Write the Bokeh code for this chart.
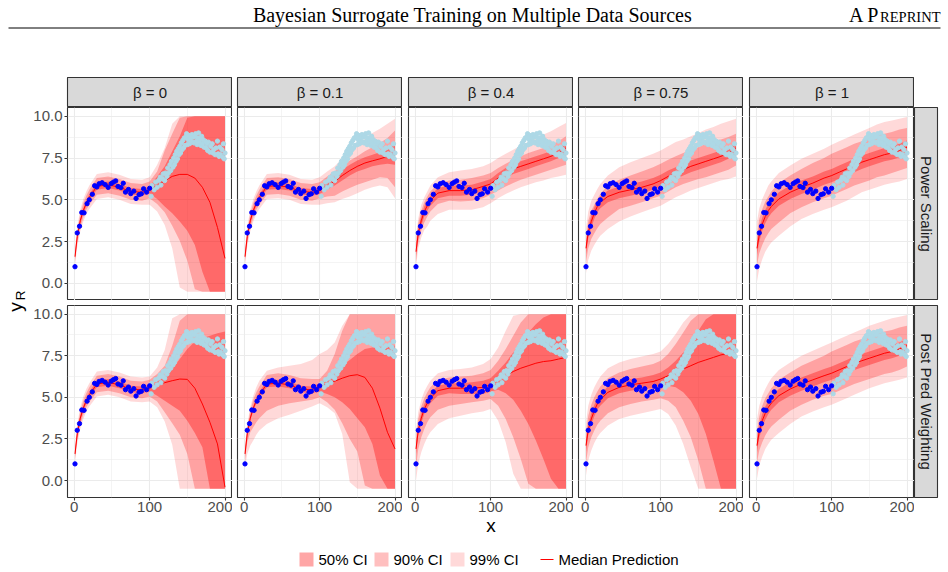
from math import pi

from bokeh.core.properties import value
from bokeh.embed import file_html
from bokeh.layouts import column, row
from bokeh.models import FixedTicker, Grid, LinearAxis, PrintfTickFormatter, Range1d
from bokeh.plotting import figure
from bokeh.resources import INLINE

# ---------------------------------------------------------------- data
XS = [1, 4, 8, 12, 16, 20, 30, 45, 60, 75, 90, 100, 110, 120, 130, 140, 150, 160, 170, 180, 190, 200]

# observed training data (first source, dark blue)
OBS1_X = [1, 4, 7, 10, 13, 17, 20, 24, 27, 30, 33, 37, 41, 45, 49, 52, 55, 58, 62, 65, 68, 72, 75, 79, 82, 86, 89, 92, 96, 100]
OBS1_Y = [1.0, 3.02, 3.42, 4.24, 4.22, 4.77, 5.0, 5.33, 5.84, 5.77, 5.96, 6.02, 5.91, 5.74, 5.97, 6.06, 6.13, 5.8, 5.73, 5.99,
          5.46, 5.62, 5.37, 5.52, 5.08, 5.31, 5.36, 5.66, 5.46, 5.69]

# second source (light blue)
OBS2_X = [102, 103, 106, 108, 110, 112, 114, 115, 117, 118, 120, 121, 123, 124, 125, 127, 128, 129, 131, 132, 133, 134, 135,
          136, 137, 138, 139, 140, 141, 142, 143, 144, 145, 146, 147, 148, 149, 150, 151, 152, 153, 154, 155, 156, 157, 158,
          159, 160, 161, 162, 163, 164, 165, 166, 167, 168, 169, 170, 171, 172, 174, 175, 176, 177, 178, 180, 181, 183, 184,
          185, 187, 188, 190, 191, 192, 193, 194, 196, 197, 198, 199, 200]
OBS2_Y = [5.21, 5.85, 5.6, 6.06, 5.75, 6.16, 6.35, 5.88, 6.26, 6.55, 6.15, 6.6, 6.4, 6.9, 6.6, 7.1, 6.75, 7.3, 6.95, 7.5,
          7.1, 7.7, 7.3, 7.9, 7.45, 8.05, 7.7, 8.2, 7.8, 8.4, 8.0, 8.55, 8.1, 8.7, 8.25, 8.75, 8.95, 8.3, 8.6, 8.85, 8.35,
          8.7, 8.5, 8.9, 8.45, 8.75, 8.4, 8.8, 8.95, 8.5, 8.3, 8.7, 9.0, 8.45, 8.65, 8.25, 8.8, 8.35, 8.6, 8.15, 8.5, 8.1,
          8.35, 7.95, 8.45, 7.85, 8.2, 8.35, 7.8, 8.0, 7.7, 8.1, 8.51, 7.75, 7.6, 8.15, 7.7, 8.0, 7.55, 8.35, 7.45, 7.8]

# Power Scaling, beta = 0
PS_B0_MED = [1.6, 2.8, 3.75, 4.35, 4.8, 5.15, 5.8, 5.9, 5.75, 5.5, 5.45, 5.6, 5.85, 6.15, 6.4, 6.52, 6.52, 6.3, 5.75, 4.85, 3.35, 1.5]
PS_B0_L50 = [1.48, 2.67, 3.6, 4.2, 4.63, 4.97, 5.6, 5.7, 5.55, 5.3, 5.25, 5.4, 5.05, 4.6, 4.2, 3.7, 3.15, 2.3, 0.7, -0.5, -0.5, -0.5]
PS_B0_U50 = [1.72, 2.93, 3.9, 4.5, 4.97, 5.33, 6.0, 6.1, 5.95, 5.7, 5.65, 5.8, 6.4, 7.0, 7.9, 8.8, 9.9, 10, 10, 10, 10, 10]
PS_B0_L90 = [1.3, 2.45, 3.35, 3.95, 4.4, 4.7, 5.3, 5.4, 5.25, 5.0, 4.95, 5.1, 4.75, 4.25, 3.45, 2.55, 1.35, -0.35, -0.5, -0.5, -0.5, -0.5]
PS_B0_U90 = [1.9, 3.15, 4.15, 4.8, 5.25, 5.6, 6.3, 6.4, 6.25, 6.0, 5.95, 6.1, 6.7, 7.95, 8.95, 9.9, 10, 10, 10, 10, 10, 10]
PS_B0_L99 = [1.1, 2.2, 3.1, 3.7, 4.15, 4.45, 5.05, 5.15, 5.0, 4.75, 4.7, 4.7, 4.3, 3.5, 2.1, -0.25, -0.5, -0.5, -0.5, -0.5, -0.5, -0.5]
PS_B0_U99 = [2.1, 3.4, 4.4, 5.05, 5.5, 5.85, 6.55, 6.65, 6.5, 6.25, 6.2, 6.35, 7.1, 8.1, 9.55, 10, 10, 10, 10, 10, 10, 10]

# Power Scaling, beta = 0.1
PS_B01_MED = [1.6, 2.8, 3.75, 4.35, 4.8, 5.15, 5.8, 5.85, 5.75, 5.5, 5.45, 5.55, 5.85, 6.1, 6.45, 6.75, 7.0, 7.2, 7.33, 7.45, 7.6, 7.85]
PS_B01_L50 = [1.48, 2.67, 3.6, 4.2, 4.63, 4.97, 5.6, 5.65, 5.55, 5.3, 5.25, 5.35, 5.6, 5.85, 6.15, 6.45, 6.7, 6.85, 7.0, 7.1, 7.15, 7.1]
PS_B01_U50 = [1.72, 2.93, 3.9, 4.5, 4.97, 5.33, 6.0, 6.05, 5.95, 5.7, 5.65, 5.75, 6.05, 6.4, 6.8, 7.1, 7.35, 7.55, 7.7, 7.85, 8.0, 8.3]
PS_B01_L90 = [1.3, 2.45, 3.35, 3.95, 4.4, 4.7, 5.3, 5.35, 5.25, 5.0, 4.95, 5.1, 5.2, 5.25, 5.5, 5.7, 5.9, 6.05, 6.2, 6.35, 6.3, 5.75]
PS_B01_U90 = [1.9, 3.15, 4.15, 4.8, 5.25, 5.6, 6.3, 6.35, 6.25, 6.0, 5.95, 6.05, 6.4, 6.7, 7.05, 7.35, 7.6, 7.9, 8.15, 8.4, 8.7, 9.15]
PS_B01_L99 = [1.1, 2.2, 3.1, 3.7, 4.15, 4.45, 5.05, 5.1, 5.0, 4.75, 4.7, 4.7, 4.8, 4.85, 5.05, 5.2, 5.4, 5.6, 5.75, 5.85, 5.75, 5.1]
PS_B01_U99 = [2.1, 3.4, 4.4, 5.05, 5.5, 5.85, 6.55, 6.6, 6.5, 6.25, 6.2, 6.35, 6.7, 7.0, 7.45, 7.9, 8.3, 8.65, 9.0, 9.25, 9.55, 9.85]

# Power Scaling, beta = 0.4
PS_B04_MED = [1.9, 3.0, 3.75, 4.3, 4.65, 4.95, 5.4, 5.55, 5.55, 5.6, 5.8, 5.95, 6.3, 6.6, 6.85, 7.0, 7.15, 7.3, 7.45, 7.6, 7.8, 8.1]
PS_B04_L50 = [1.65, 2.7, 3.45, 4.0, 4.35, 4.65, 5.1, 5.25, 5.25, 5.3, 5.5, 5.65, 6.0, 6.3, 6.55, 6.7, 6.85, 7.0, 7.15, 7.3, 7.5, 7.8]
PS_B04_U50 = [2.15, 3.3, 4.05, 4.6, 4.95, 5.25, 5.7, 5.85, 5.85, 5.9, 6.1, 6.25, 6.6, 6.9, 7.15, 7.3, 7.45, 7.6, 7.75, 7.9, 8.1, 8.4]
PS_B04_L90 = [1.3, 2.45, 3.15, 3.65, 4.0, 4.3, 4.75, 4.95, 4.9, 4.95, 5.1, 5.3, 5.55, 5.8, 6.0, 6.2, 6.35, 6.5, 6.65, 6.8, 6.95, 7.1]
PS_B04_U90 = [2.5, 3.6, 4.35, 4.85, 5.2, 5.5, 5.95, 6.15, 6.2, 6.3, 6.45, 6.6, 6.9, 7.15, 7.4, 7.6, 7.8, 7.95, 8.1, 8.3, 8.5, 8.8]
PS_B04_L99 = [1.0, 2.1, 2.75, 3.2, 3.4, 3.75, 4.15, 4.4, 4.4, 4.4, 4.55, 4.8, 5.1, 5.35, 5.55, 5.75, 5.9, 6.05, 6.15, 6.3, 6.4, 6.5]
PS_B04_U99 = [2.8, 3.9, 4.7, 5.15, 5.5, 5.85, 6.35, 6.65, 6.75, 6.85, 7.0, 7.2, 7.5, 7.75, 8.0, 8.25, 8.45, 8.7, 8.9, 9.1, 9.35, 9.6]

# Power Scaling, beta = 0.75
PS_B075_MED = [2.1, 3.05, 3.7, 4.2, 4.6, 4.85, 5.2, 5.45, 5.6, 5.75, 5.95, 6.15, 6.4, 6.6, 6.8, 7.0, 7.15, 7.3, 7.45, 7.6, 7.8, 8.1]
PS_B075_L50 = [1.75, 2.7, 3.35, 3.85, 4.25, 4.5, 4.85, 5.1, 5.25, 5.4, 5.6, 5.8, 6.05, 6.25, 6.45, 6.65, 6.8, 6.95, 7.1, 7.25, 7.45, 7.75]
PS_B075_U50 = [2.45, 3.4, 4.05, 4.55, 4.95, 5.2, 5.55, 5.8, 5.95, 6.1, 6.3, 6.5, 6.75, 6.95, 7.15, 7.35, 7.5, 7.65, 7.8, 7.95, 8.15, 8.45]
PS_B075_L90 = [1.3, 2.1, 2.65, 3.0, 3.3, 3.55, 3.95, 4.45, 4.65, 4.85, 5.1, 5.25, 5.5, 5.75, 5.95, 6.1, 6.25, 6.35, 6.5, 6.65, 6.8, 7.05]
PS_B075_U90 = [2.7, 3.75, 4.35, 4.7, 5.05, 5.35, 5.85, 6.2, 6.45, 6.7, 6.95, 7.15, 7.4, 7.6, 7.8, 8.0, 8.15, 8.35, 8.5, 8.6, 8.75, 8.95]
PS_B075_L99 = [0.6, 1.4, 1.95, 2.3, 2.6, 2.85, 3.25, 3.7, 4.0, 4.25, 4.5, 4.65, 4.9, 5.15, 5.35, 5.55, 5.7, 5.85, 6.0, 6.15, 6.25, 6.4]
PS_B075_U99 = [3.3, 4.3, 4.95, 5.3, 5.65, 5.95, 6.45, 6.95, 7.25, 7.5, 7.75, 7.95, 8.2, 8.45, 8.6, 8.8, 9.0, 9.2, 9.35, 9.55, 9.7, 9.85]

# Power Scaling, beta = 1
PS_B1_MED = [2.1, 2.9, 3.55, 4.0, 4.35, 4.6, 5.05, 5.45, 5.75, 6.0, 6.3, 6.45, 6.65, 6.85, 7.05, 7.25, 7.4, 7.55, 7.7, 7.8, 7.95, 8.15]
PS_B1_L50 = [1.7, 2.5, 3.15, 3.6, 3.95, 4.2, 4.65, 5.05, 5.35, 5.6, 5.9, 6.05, 6.25, 6.45, 6.65, 6.85, 7.0, 7.15, 7.3, 7.4, 7.55, 7.75]
PS_B1_U50 = [2.5, 3.3, 3.95, 4.4, 4.75, 5.0, 5.45, 5.85, 6.15, 6.4, 6.7, 6.85, 7.05, 7.25, 7.45, 7.65, 7.8, 7.95, 8.1, 8.2, 8.35, 8.55]
PS_B1_L90 = [1.1, 1.8, 2.3, 2.7, 3.0, 3.25, 3.65, 4.2, 4.55, 4.85, 5.1, 5.25, 5.45, 5.65, 5.85, 6.0, 6.15, 6.35, 6.45, 6.6, 6.75, 6.9]
PS_B1_U90 = [2.9, 3.85, 4.45, 4.9, 5.2, 5.5, 6.0, 6.45, 6.85, 7.2, 7.5, 7.75, 7.95, 8.15, 8.35, 8.5, 8.65, 8.85, 8.95, 9.05, 9.2, 9.3]
PS_B1_L99 = [0.1, 0.9, 1.45, 1.9, 2.2, 2.45, 2.85, 3.4, 3.85, 4.15, 4.4, 4.55, 4.75, 4.95, 5.2, 5.45, 5.6, 5.75, 5.9, 6.0, 6.1, 6.25]
PS_B1_U99 = [3.7, 4.5, 5.05, 5.45, 5.85, 6.1, 6.6, 7.05, 7.45, 7.75, 8.05, 8.3, 8.5, 8.7, 8.9, 9.1, 9.3, 9.5, 9.65, 9.75, 9.85, 9.95]

# Post Pred Weighting, beta = 0
PP_B0_MED = [1.6, 2.8, 3.75, 4.35, 4.8, 5.15, 5.8, 5.9, 5.75, 5.5, 5.45, 5.56, 5.72, 5.88, 6.0, 6.1, 6.08, 5.55, 4.6, 3.5, 2.2, -0.4]
PP_B0_L50 = [1.48, 2.67, 3.6, 4.2, 4.63, 4.97, 5.6, 5.7, 5.55, 5.3, 5.25, 5.36, 5.1, 4.8, 4.5, 4.2, 3.6, 2.85, 2.0, -0.5, -0.5, -0.5]
PP_B0_U50 = [1.72, 2.93, 3.9, 4.5, 4.97, 5.33, 6.0, 6.1, 5.95, 5.7, 5.65, 5.76, 5.95, 6.25, 6.7, 7.3, 7.9, 8.35, 8.55, 8.7, 8.85, 8.95]
PP_B0_L90 = [1.3, 2.45, 3.35, 3.95, 4.4, 4.7, 5.3, 5.4, 5.25, 5.0, 4.95, 5.05, 4.75, 4.1, 3.45, 2.75, 1.6, -0.5, -0.5, -0.5, -0.5, -0.5]
PP_B0_U90 = [1.9, 3.15, 4.15, 4.8, 5.25, 5.6, 6.3, 6.4, 6.25, 6.0, 5.95, 6.06, 6.4, 6.9, 8.1, 9.6, 10, 10, 10, 10, 10, 10]
PP_B0_L99 = [1.1, 2.2, 3.1, 3.7, 4.15, 4.45, 5.05, 5.15, 5.0, 4.75, 4.7, 4.75, 4.4, 3.55, 2.15, -0.5, -0.5, -0.5, -0.5, -0.5, -0.5, -0.5]
PP_B0_U99 = [2.1, 3.4, 4.4, 5.05, 5.5, 5.85, 6.55, 6.65, 6.5, 6.25, 6.2, 6.25, 6.8, 7.85, 9.75, 10, 10, 10, 10, 10, 10, 10]

# Post Pred Weighting, beta = 0.1
PP_B01_MED = [1.6, 2.8, 3.75, 4.35, 4.8, 5.15, 5.8, 5.85, 5.75, 5.5, 5.45, 5.64, 5.8, 5.97, 6.15, 6.3, 6.36, 6.2, 5.55, 4.35, 2.9, 1.9]
PP_B01_L50 = [1.48, 2.67, 3.6, 4.2, 4.63, 4.97, 5.6, 5.65, 5.55, 5.3, 5.25, 5.35, 5.2, 5.0, 4.7, 4.3, 3.75, 3.2, 2.2, 0.3, -0.5, -0.5]
PP_B01_U50 = [1.72, 2.93, 3.9, 4.5, 4.97, 5.33, 6.0, 6.05, 5.95, 5.7, 5.65, 5.85, 6.1, 6.5, 6.9, 7.25, 7.6, 7.9, 8.0, 8.05, 8.1, 8.1]
PP_B01_L90 = [1.2, 2.3, 2.9, 3.2, 3.5, 3.75, 4.2, 4.5, 4.65, 4.75, 4.85, 5.0, 4.7, 4.25, 3.45, 2.5, 1.75, -0.3, -0.5, -0.5, -0.5, -0.5]
PP_B01_U90 = [1.95, 3.2, 4.2, 4.85, 5.3, 5.65, 6.35, 6.45, 6.35, 6.15, 6.1, 6.1, 6.6, 7.6, 9.0, 10, 10, 10, 10, 10, 10, 10]
PP_B01_L99 = [0.8, 1.6, 2.1, 2.4, 2.75, 3.0, 3.4, 3.75, 3.95, 4.2, 4.45, 4.65, 4.4, 4.05, 2.8, -0.1, -0.5, -0.5, -0.5, -0.5, -0.5, -0.5]
PP_B01_U99 = [2.1, 3.4, 4.4, 5.1, 5.6, 6.0, 6.6, 6.8, 6.9, 7.0, 7.25, 7.6, 7.85, 8.3, 9.3, 10, 10, 10, 10, 10, 10, 10]

# Post Pred Weighting, beta = 0.4
PP_B04_MED = [1.9, 3.0, 3.75, 4.3, 4.65, 4.95, 5.4, 5.55, 5.55, 5.55, 5.6, 5.75, 6.05, 6.3, 6.55, 6.75, 6.9, 7.05, 7.15, 7.2, 7.3, 7.4]
PP_B04_L50 = [1.6, 2.7, 3.45, 4.0, 4.35, 4.65, 5.1, 5.25, 5.2, 5.2, 5.2, 5.35, 5.45, 5.25, 4.85, 4.2, 3.4, 2.4, 1.3, 0.1, -0.5, -0.5]
PP_B04_U50 = [2.2, 3.3, 4.05, 4.6, 4.95, 5.25, 5.7, 5.85, 5.85, 5.9, 6.0, 6.15, 6.6, 7.1, 7.7, 8.3, 8.9, 9.4, 9.8, 10, 10, 10]
PP_B04_L90 = [0.8, 1.9, 2.6, 3.1, 3.5, 3.8, 4.25, 4.5, 4.6, 4.7, 4.8, 4.9, 4.5, 3.7, 2.6, 1.3, -0.2, -0.5, -0.5, -0.5, -0.5, -0.5]
PP_B04_U90 = [2.6, 3.7, 4.45, 4.95, 5.3, 5.6, 6.05, 6.2, 6.25, 6.3, 6.45, 6.65, 7.2, 7.9, 8.7, 9.5, 10, 10, 10, 10, 10, 10]
PP_B04_L99 = [0.0, 1.0, 1.7, 2.2, 2.6, 2.9, 3.4, 3.75, 3.9, 4.05, 4.15, 4.3, 3.6, 2.3, 0.4, -0.5, -0.5, -0.5, -0.5, -0.5, -0.5, -0.5]
PP_B04_U99 = [3.0, 4.1, 4.85, 5.35, 5.7, 6.0, 6.45, 6.65, 6.7, 6.8, 7.0, 7.3, 8.0, 9.0, 9.9, 10, 10, 10, 10, 10, 10, 10]

# Post Pred Weighting, beta = 0.75
PP_B075_MED = [2.1, 3.05, 3.7, 4.2, 4.6, 4.85, 5.3, 5.6, 5.75, 5.85, 5.95, 6.1, 6.3, 6.5, 6.7, 6.9, 7.1, 7.25, 7.4, 7.55, 7.65, 7.75]
PP_B075_L50 = [1.75, 2.7, 3.35, 3.85, 4.25, 4.5, 4.95, 5.25, 5.4, 5.5, 5.55, 5.65, 5.7, 5.6, 5.3, 4.8, 4.0, 2.8, 1.2, -0.5, -0.5, -0.5]
PP_B075_U50 = [2.45, 3.4, 4.05, 4.55, 4.95, 5.2, 5.65, 5.95, 6.1, 6.2, 6.35, 6.5, 6.8, 7.2, 7.7, 8.3, 9.0, 9.7, 10, 10, 10, 10]
PP_B075_L90 = [1.1, 2.0, 2.6, 3.0, 3.35, 3.6, 4.05, 4.4, 4.6, 4.75, 4.85, 4.95, 4.8, 4.4, 3.6, 2.6, 1.2, -0.5, -0.5, -0.5, -0.5, -0.5]
PP_B075_U90 = [2.9, 3.9, 4.55, 5.0, 5.35, 5.65, 6.15, 6.5, 6.7, 6.85, 7.0, 7.2, 7.6, 8.2, 8.9, 9.6, 10, 10, 10, 10, 10, 10]
PP_B075_L99 = [0.3, 1.2, 1.8, 2.25, 2.6, 2.85, 3.3, 3.7, 3.9, 4.05, 4.2, 4.3, 4.0, 3.3, 2.2, 0.8, -0.5, -0.5, -0.5, -0.5, -0.5, -0.5]
PP_B075_U99 = [3.5, 4.5, 5.15, 5.6, 5.95, 6.25, 6.75, 7.1, 7.3, 7.45, 7.6, 7.75, 8.2, 8.8, 9.5, 10, 10, 10, 10, 10, 10, 10]

# Post Pred Weighting, beta = 1
PP_B1_MED = [2.1, 2.95, 3.6, 4.05, 4.4, 4.65, 5.1, 5.5, 5.8, 6.05, 6.3, 6.45, 6.65, 6.85, 7.05, 7.2, 7.35, 7.5, 7.65, 7.75, 7.9, 8.1]
PP_B1_L50 = [1.7, 2.55, 3.2, 3.65, 4.0, 4.25, 4.7, 5.1, 5.4, 5.65, 5.9, 6.05, 6.25, 6.45, 6.65, 6.8, 6.95, 7.1, 7.25, 7.35, 7.5, 7.7]
PP_B1_U50 = [2.5, 3.35, 4.0, 4.45, 4.8, 5.05, 5.5, 5.9, 6.2, 6.45, 6.7, 6.85, 7.05, 7.25, 7.45, 7.6, 7.75, 7.9, 8.05, 8.15, 8.3, 8.5]
PP_B1_L90 = [1.1, 1.8, 2.3, 2.7, 3.0, 3.25, 3.65, 4.2, 4.55, 4.85, 5.1, 5.2, 5.4, 5.6, 5.8, 5.95, 6.1, 6.25, 6.4, 6.5, 6.65, 6.85]
PP_B1_U90 = [2.9, 3.85, 4.5, 4.95, 5.25, 5.55, 6.05, 6.5, 6.9, 7.2, 7.5, 7.75, 7.95, 8.15, 8.35, 8.5, 8.65, 8.8, 8.95, 9.05, 9.2, 9.3]
PP_B1_L99 = [0.1, 0.9, 1.45, 1.9, 2.2, 2.45, 2.85, 3.4, 3.85, 4.15, 4.4, 4.55, 4.75, 4.95, 5.15, 5.35, 5.55, 5.7, 5.85, 5.95, 6.05, 6.2]
PP_B1_U99 = [3.7, 4.5, 5.1, 5.5, 5.85, 6.15, 6.65, 7.1, 7.5, 7.8, 8.1, 8.3, 8.5, 8.7, 8.9, 9.1, 9.3, 9.45, 9.6, 9.75, 9.85, 9.95]

BETA_LABELS = ["\u03b2 = 0", "\u03b2 = 0.1", "\u03b2 = 0.4", "\u03b2 = 0.75", "\u03b2 = 1"]
METHOD_LABELS = ["Power Scaling", "Post Pred Weighting"]
LEGEND_LABELS = ["50% CI", "90% CI", "99% CI", "Median Prediction"]
X_TICKS = [0, 100, 200]
X_MINOR = [50, 150]
Y_TICKS = [0, 2.5, 5, 7.5, 10]
Y_MINOR = [1.25, 3.75, 6.25, 8.75]

# (median, 50%, 90%, 99%) per facet, rows = method, columns = beta
PANELS = [
    [
        (PS_B0_MED, PS_B0_L50, PS_B0_U50, PS_B0_L90, PS_B0_U90, PS_B0_L99, PS_B0_U99),
        (PS_B01_MED, PS_B01_L50, PS_B01_U50, PS_B01_L90, PS_B01_U90, PS_B01_L99, PS_B01_U99),
        (PS_B04_MED, PS_B04_L50, PS_B04_U50, PS_B04_L90, PS_B04_U90, PS_B04_L99, PS_B04_U99),
        (PS_B075_MED, PS_B075_L50, PS_B075_U50, PS_B075_L90, PS_B075_U90, PS_B075_L99, PS_B075_U99),
        (PS_B1_MED, PS_B1_L50, PS_B1_U50, PS_B1_L90, PS_B1_U90, PS_B1_L99, PS_B1_U99),
    ],
    [
        (PP_B0_MED, PP_B0_L50, PP_B0_U50, PP_B0_L90, PP_B0_U90, PP_B0_L99, PP_B0_U99),
        (PP_B01_MED, PP_B01_L50, PP_B01_U50, PP_B01_L90, PP_B01_U90, PP_B01_L99, PP_B01_U99),
        (PP_B04_MED, PP_B04_L50, PP_B04_U50, PP_B04_L90, PP_B04_U90, PP_B04_L99, PP_B04_U99),
        (PP_B075_MED, PP_B075_L50, PP_B075_U50, PP_B075_L90, PP_B075_U90, PP_B075_L99, PP_B075_U99),
        (PP_B1_MED, PP_B1_L50, PP_B1_U50, PP_B1_L90, PP_B1_U90, PP_B1_L99, PP_B1_U99),
    ],
]

# ---------------------------------------------------------------- style
SANS = "Liberation Sans"
SERIF = "Liberation Serif"
BAND_ALPHA = {"50": 0.35, "90": 0.25, "99": 0.15}
FRAME_W = 165
LEFT_GAP = [40, 5, 6, 5, 6]
ROW_FRAME_H = [193, 192]
STRIP_H = 30
XAXIS_H = 44          # tick labels plus the shared "x" title
X_RANGE = (-8.95, 209.95)
Y_RANGE = (-1.02, 10.52)
BODY_H = STRIP_H + ROW_FRAME_H[0] + 5 + ROW_FRAME_H[1] + XAXIS_H
BODY_TOP = 77
BODY_BOTTOM = BODY_TOP + BODY_H


def blank_fig(w, h, **kw):
    opts = dict(width=w, height=h, x_axis_type=None, y_axis_type=None, toolbar_location=None,
                output_backend="svg", title=None, min_border_left=0, min_border_right=0,
                min_border_top=0, min_border_bottom=0, outline_line_color=None,
                border_fill_color="white", background_fill_color="white")
    opts.update(kw)
    return figure(**opts)


def label(fig, x, y, text, size, font=SANS, align="center", angle=0.0, color="black"):
    fig.text(x=x, y=y, text=text, angle=angle, text_align=align, text_baseline="middle",
             text_font=value(font), text_font_size=size, text_color=color)


def make_panel(r, c):
    med, l50, u50, l90, u90, l99, u99 = PANELS[r][c]
    top = 0 if r == 0 else 5
    bottom = 0 if r == 0 else XAXIS_H
    p = blank_fig(LEFT_GAP[c] + FRAME_W, ROW_FRAME_H[r] + top + bottom,
                  x_range=Range1d(*X_RANGE), y_range=Range1d(*Y_RANGE),
                  min_border_left=LEFT_GAP[c], min_border_top=top, min_border_bottom=bottom,
                  outline_line_color="#333333", outline_line_width=1.1)
    p.add_layout(Grid(dimension=0, ticker=FixedTicker(ticks=X_TICKS, minor_ticks=X_MINOR),
                      grid_line_color="#EBEBEB", grid_line_width=1.1,
                      minor_grid_line_color="#EBEBEB", minor_grid_line_width=0.55))
    p.add_layout(Grid(dimension=1, ticker=FixedTicker(ticks=Y_TICKS, minor_ticks=Y_MINOR),
                      grid_line_color="#EBEBEB", grid_line_width=1.1,
                      minor_grid_line_color="#EBEBEB", minor_grid_line_width=0.55))
    axis_style = dict(axis_line_color=None, major_tick_line_color="#333333", major_tick_line_width=1.1,
                      major_tick_in=0, major_tick_out=3, minor_tick_line_color=None,
                      major_label_text_color="#4D4D4D", major_label_text_font=SANS,
                      major_label_text_font_size="15px")
    if c == 0:
        p.add_layout(LinearAxis(ticker=FixedTicker(ticks=Y_TICKS), formatter=PrintfTickFormatter(format="%.1f"),
                                major_label_standoff=2, **axis_style), "left")
    if r == 1:
        xaxis = LinearAxis(ticker=FixedTicker(ticks=X_TICKS), major_label_standoff=1, **axis_style)
        if c == 2:
            # the middle facet carries the shared x title, centred under the whole grid
            xaxis.axis_label = "x"
            xaxis.axis_label_standoff = 0
            xaxis.axis_label_text_font = SANS
            xaxis.axis_label_text_font_size = "19px"
            xaxis.axis_label_text_font_style = "normal"
            xaxis.axis_label_text_color = "black"
        p.add_layout(xaxis, "below")

    p.varea(x=XS, y1=l99, y2=u99, fill_color="red", fill_alpha=BAND_ALPHA["99"])
    p.varea(x=XS, y1=l90, y2=u90, fill_color="red", fill_alpha=BAND_ALPHA["90"])
    p.varea(x=XS, y1=l50, y2=u50, fill_color="red", fill_alpha=BAND_ALPHA["50"])
    p.line(XS, med, line_color="red", line_width=1)
    p.scatter(OBS2_X, OBS2_Y, size=4.3, color="lightblue")
    p.scatter(OBS1_X, OBS1_Y, size=4.3, color="blue")
    return p


def make_top_strip(c):
    s = blank_fig(LEFT_GAP[c] + FRAME_W, STRIP_H, x_range=Range1d(0, 1), y_range=Range1d(0, 1),
                  min_border_left=LEFT_GAP[c], background_fill_color="#D9D9D9",
                  outline_line_color="#333333", outline_line_width=1.1)
    label(s, [0.5], [0.5], [BETA_LABELS[c]], "15px", color="#1A1A1A")
    return s


def make_side_strip(r):
    top = 0 if r == 0 else 5
    bottom = 0 if r == 0 else XAXIS_H
    s = blank_fig(34, ROW_FRAME_H[r] + top + bottom, x_range=Range1d(0, 1), y_range=Range1d(0, 1),
                  min_border_right=11, min_border_top=top, min_border_bottom=bottom,
                  background_fill_color="#D9D9D9", outline_line_color="#333333", outline_line_width=1.1)
    label(s, [0.5], [0.5], [METHOD_LABELS[r]], "15px", angle=-pi / 2, color="#1A1A1A")
    return s


# ---------------------------------------------------------------- header
header = blank_fig(948, BODY_TOP, x_range=Range1d(0, 948), y_range=Range1d(BODY_TOP, 0))
label(header, [472], [14.5], ["Bayesian Surrogate Training on Multiple Data Sources"], "20px", font=SERIF)
label(header, [940], [16.5], ["REPRINT"], "14.5px", font=SERIF, align="right")
label(header, [879], [14.5], ["A P"], "20px", font=SERIF, align="right")
header.segment(x0=[8], y0=[27.5], x1=[940], y1=[27.5], line_color="black", line_width=1)

# ---------------------------------------------------------------- y title
ytitle = blank_fig(27, BODY_H, x_range=Range1d(0, 27), y_range=Range1d(BODY_BOTTOM, BODY_TOP))
label(ytitle, [15], [306.5], ["y"], "19px", angle=pi / 2)
label(ytitle, [19.5], [295], ["R"], "13.5px", angle=pi / 2)

# ---------------------------------------------------------------- legend
footer = blank_fig(948, 572 - BODY_BOTTOM, x_range=Range1d(0, 948), y_range=Range1d(572, BODY_BOTTOM))
footer.rect(x=[306, 381, 457], y=[559, 559, 559], width=14, height=14, fill_color="red",
            fill_alpha=[BAND_ALPHA["50"], BAND_ALPHA["90"], BAND_ALPHA["99"]], line_color=None)
footer.segment(x0=[540], y0=[559], x1=[553], y1=[559], line_color="red", line_width=1.2)
label(footer, [318, 393, 469, 558], [559, 559, 559, 559], LEGEND_LABELS, "15px", align="left")

# ---------------------------------------------------------------- assemble
facet_cols = [column(make_top_strip(c), make_panel(0, c), make_panel(1, c), spacing=0) for c in range(5)]
side_col = column(blank_fig(34, STRIP_H), make_side_strip(0), make_side_strip(1), spacing=0)
body = row(ytitle, *facet_cols, side_col, spacing=0)
page = column(header, body, footer, spacing=0)

open("out.html", "w").write(file_html(page, INLINE))
